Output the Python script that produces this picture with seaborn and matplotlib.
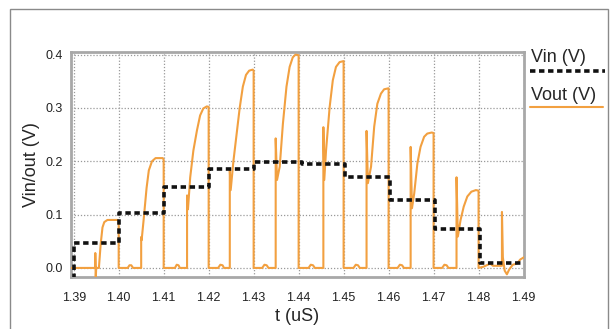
import matplotlib
matplotlib.use("Agg")
import matplotlib.pyplot as plt
from matplotlib.lines import Line2D
from matplotlib.patches import Rectangle
import seaborn as sns

# Vout waveform, one line per 10 ns period (time in uS, value in V)
vout_t = [
    1.3890, 1.3948, 1.3948, 1.3949, 1.3950, 1.3956, 1.3960, 1.3964, 1.3968, 1.3975, 1.3998, 1.4000,
    1.4000, 1.4020, 1.4024, 1.4028, 1.4032, 1.4050, 1.4050, 1.4051, 1.4056, 1.4062, 1.4067, 1.4074, 1.4082, 1.4098, 1.4100,
    1.4100, 1.4125, 1.4129, 1.4133, 1.4136, 1.4152, 1.4152, 1.4154, 1.4159, 1.4166, 1.4174, 1.4181, 1.4188, 1.4196, 1.4200,
    1.4200, 1.4221, 1.4226, 1.4231, 1.4234, 1.4247, 1.4247, 1.4249, 1.4255, 1.4262, 1.4269, 1.4276, 1.4283, 1.4290, 1.4298, 1.4300,
    1.4300, 1.4319, 1.4324, 1.4329, 1.4333, 1.4349, 1.4349, 1.4352, 1.4358, 1.4365, 1.4373, 1.4380, 1.4387, 1.4393, 1.4400,
    1.4400, 1.4422, 1.4427, 1.4432, 1.4436, 1.4455, 1.4455, 1.4457, 1.4461, 1.4469, 1.4476, 1.4483, 1.4491, 1.4500,
    1.4500, 1.4522, 1.4527, 1.4532, 1.4536, 1.4551, 1.4551, 1.4554, 1.4561, 1.4568, 1.4575, 1.4583, 1.4590, 1.4600,
    1.4600, 1.4620, 1.4625, 1.4630, 1.4634, 1.4649, 1.4649, 1.4652, 1.4657, 1.4664, 1.4671, 1.4679, 1.4686, 1.4696, 1.4700,
    1.4700, 1.4719, 1.4724, 1.4729, 1.4733, 1.4751, 1.4751, 1.4754, 1.4760, 1.4767, 1.4775, 1.4784, 1.4794, 1.4800,
    1.4800, 1.4810, 1.4826, 1.4832, 1.4845, 1.4852, 1.4852, 1.4854, 1.4858, 1.4863, 1.4868, 1.4876, 1.4885, 1.4893, 1.4905,
]
vout_v = [
    0.0, 0.0, 0.028, -0.02, 0.0, 0.0, 0.045, 0.076, 0.086, 0.090, 0.090, 0.088,
    0.0, 0.0, 0.005, 0.005, 0.0, 0.0, 0.058, 0.052, 0.095, 0.150, 0.183, 0.200, 0.206, 0.206, 0.203,
    0.0, 0.0, 0.006, 0.005, 0.0, 0.0, 0.136, 0.110, 0.170, 0.220, 0.258, 0.286, 0.299, 0.303, 0.302,
    0.0, 0.0, 0.006, 0.005, 0.0, 0.0, 0.184, 0.146, 0.200, 0.250, 0.300, 0.340, 0.362, 0.370, 0.372, 0.370,
    0.0, 0.0, 0.006, 0.005, 0.0, 0.0, 0.243, 0.165, 0.190, 0.270, 0.340, 0.377, 0.395, 0.400, 0.399,
    0.0, 0.0, 0.006, 0.005, 0.0, 0.0, 0.264, 0.165, 0.221, 0.302, 0.352, 0.377, 0.386, 0.388,
    0.0, 0.0, 0.006, 0.005, 0.0, 0.0, 0.257, 0.159, 0.190, 0.265, 0.308, 0.327, 0.335, 0.337,
    0.0, 0.0, 0.006, 0.005, 0.0, 0.0, 0.227, 0.112, 0.140, 0.196, 0.227, 0.246, 0.252, 0.254, 0.253,
    0.0, 0.0, 0.006, 0.005, 0.0, 0.0, 0.170, 0.059, 0.090, 0.115, 0.134, 0.143, 0.146, 0.145,
    0.0, 0.002, 0.008, 0.004, 0.004, 0.004, 0.105, 0.020, -0.005, -0.012, -0.003, 0.006, 0.008, 0.016, 0.022,
]

# Vin staircase (steps-post)
vin_t = [1.3900, 1.3901, 1.4001, 1.4101, 1.4201, 1.4301, 1.4408, 1.4503, 1.4603, 1.4703, 1.4803, 1.4900]
vin_v = [-0.02, 0.046, 0.103, 0.151, 0.185, 0.199, 0.195, 0.170, 0.128, 0.073, 0.010, 0.010]

x_ticks = [1.39, 1.40, 1.41, 1.42, 1.43, 1.44, 1.45, 1.46, 1.47, 1.48, 1.49]
y_ticks = [0.0, 0.1, 0.2, 0.3, 0.4]

sns.set_style("white")
plt.rcParams["font.family"] = ["Liberation Sans", "DejaVu Sans"]

orange = "#F2A040"
grey = "#a8a8a8"
vin_dash = (0, (1.5, 1.0))

fig = plt.figure(figsize=(6.11, 3.29), dpi=100)
ax = fig.add_axes([71 / 611, 1 - 277 / 329, 453 / 611, 225 / 329])

sns.lineplot(x=vout_t, y=vout_v, estimator=None, sort=False, color=orange, linewidth=1.5, ax=ax, zorder=3)
sns.lineplot(x=vin_t, y=vin_v, estimator=None, sort=False, color="#111111", linewidth=2.6,
             linestyle=vin_dash, drawstyle="steps-post", ax=ax, zorder=4)

ax.set_xlim(1.3894, 1.4901)
ax.set_ylim(-0.017, 0.405)
ax.set_xticks(x_ticks)
ax.set_xticklabels([f"{v:.2f}" for v in x_ticks])
ax.set_yticks(y_ticks)
ax.set_yticklabels([f"{v:.1f}" for v in y_ticks])
ax.grid(True, color="#999999", linestyle=(0, (1, 1.5)), linewidth=0.9)
for s in ax.spines.values():
    s.set_color(grey)
    s.set_linewidth(2)
ax.tick_params(axis="x", direction="out", length=5, width=1, color=grey, pad=6, labelsize=9, labelcolor="#222222")
ax.tick_params(axis="y", direction="out", length=4, width=1, color=grey, pad=2, labelsize=9, labelcolor="#222222")
ax.set_xlabel("t (uS)", fontsize=13, labelpad=3)
ax.set_ylabel("Vin/out (V)", fontsize=13, labelpad=4)

# legend outside on the right, text above its line sample
fig.text(531 / 611, 1 - 57 / 329, "Vin (V)", fontsize=13, va="center", ha="left")
fig.add_artist(Line2D([530 / 611, 605 / 611], [1 - 71 / 329] * 2, color="#111111", linewidth=2.6,
                      linestyle=vin_dash))
fig.text(531 / 611, 1 - 95 / 329, "Vout (V)", fontsize=13, va="center", ha="left")
fig.add_artist(Line2D([530 / 611, 603 / 611], [1 - 107 / 329] * 2, color=orange, linewidth=1.5))

# outer frame of the screenshot
fig.add_artist(Rectangle((10 / 611, -0.05), 598 / 611, 1.05 - 9 / 329, fill=False,
                         edgecolor="#8a8a8a", linewidth=1, transform=fig.transFigure))

fig.savefig("out.png", dpi=100)
